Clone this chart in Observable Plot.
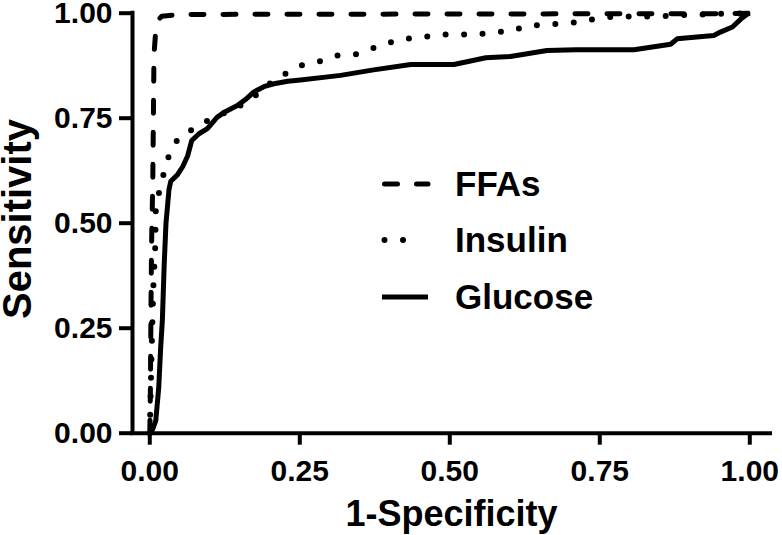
<!DOCTYPE html>
<html>
<head>
<meta charset="utf-8">
<script src="https://cdn.jsdelivr.net/npm/d3@7"></script>
<script src="https://cdn.jsdelivr.net/npm/@observablehq/plot@0.6"></script>
<style>
  body { margin: 0; background: #fff; }
  #wrap { position: relative; width: 782px; height: 535px; color: #000;
          font-family: "Liberation Sans", Arial, Helvetica, sans-serif; }
  #wrap svg { position: absolute; left: 0; top: 0; }
</style>
</head>
<body>
<div id="wrap"></div>
<script>
// ---- Data ----
const xTicks = [0, 0.25, 0.5, 0.75, 1];
const yTicks = [0, 0.25, 0.5, 0.75, 1];
const xTitle = "1-Specificity";
const yTitle = "Sensitivity";
const seriesNames = ["FFAs", "Insulin", "Glucose"];

const ffasX = [0, 0.001, 0.002, 0.003, 0.005, 0.006, 0.007, 0.010, 0.015, 0.020, 0.050, 0.500, 0.950, 1];
const ffasY = [0, 0.10, 0.30, 0.45, 0.60, 0.75, 0.90, 0.96, 0.985, 0.993, 0.997, 0.998, 0.999, 1];

const insulinX = [0, 0.002, 0.004, 0.006, 0.009, 0.010, 0.015, 0.021, 0.027, 0.036, 0.051, 0.073, 0.093, 0.120, 0.143, 0.165, 0.187, 0.206, 0.230, 0.255, 0.285, 0.311, 0.343, 0.365, 0.393, 0.420, 0.450, 0.480, 0.544, 0.573, 0.602, 0.629, 0.661, 0.690, 0.720, 0.748, 0.782, 0.845, 0.876, 0.938, 1];
const insulinY = [0, 0.13, 0.25, 0.35, 0.44, 0.53, 0.57, 0.605, 0.64, 0.677, 0.709, 0.724, 0.742, 0.760, 0.772, 0.794, 0.814, 0.841, 0.859, 0.877, 0.886, 0.899, 0.902, 0.913, 0.927, 0.939, 0.941, 0.949, 0.949, 0.955, 0.957, 0.971, 0.972, 0.976, 0.979, 0.989, 0.992, 0.992, 0.995, 0.998, 1];

const glucoseX = [0, 0.005, 0.010, 0.015, 0.018, 0.021, 0.024, 0.027, 0.032, 0.035, 0.046, 0.055, 0.063, 0.070, 0.082, 0.096, 0.112, 0.125, 0.146, 0.160, 0.173, 0.190, 0.207, 0.230, 0.251, 0.300, 0.318, 0.373, 0.435, 0.507, 0.560, 0.601, 0.662, 0.710, 0.807, 0.868, 0.879, 0.940, 0.951, 0.971, 0.985, 0.996, 1];
const glucoseY = [0, 0.01, 0.03, 0.11, 0.20, 0.27, 0.40, 0.50, 0.58, 0.60, 0.615, 0.635, 0.66, 0.697, 0.713, 0.725, 0.752, 0.765, 0.780, 0.795, 0.812, 0.825, 0.832, 0.838, 0.841, 0.849, 0.852, 0.865, 0.878, 0.878, 0.894, 0.897, 0.911, 0.913, 0.913, 0.926, 0.939, 0.947, 0.955, 0.967, 0.986, 0.998, 1];

// ---- Build tables ----
const toRows = (xs, ys) => xs.map((x, i) => ({x, y: ys[i]}));
const ffas = toRows(ffasX, ffasY);
const insulin = toRows(insulinX, insulinY);
const glucose = toRows(glucoseX, glucoseY);

const styles = {
  FFAs:    {strokeWidth: 5, strokeDasharray: "13,19", strokeLinecap: "round"},
  Insulin: {strokeWidth: 6, strokeDasharray: "0,18.5", strokeLinecap: "round"},
  Glucose: {strokeWidth: 5, strokeDasharray: null, strokeLinecap: "butt"}
};

const xDomain = [-0.0288, 1.0345];
const fmt = d3.format(".2f");
const font = '"Liberation Sans", Arial, Helvetica, sans-serif';

const chart = Plot.plot({
  width: 782,
  height: 535,
  marginLeft: 132,
  marginRight: 12,
  marginTop: 12.7,
  marginBottom: 102.3,
  style: {fontFamily: font, color: "#000", background: "#fff", overflow: "visible"},
  x: {domain: xDomain},
  y: {domain: [0, 1]},
  marks: [
    Plot.line(glucose, {x: "x", y: "y", stroke: "#000", strokeLinejoin: "round", ...styles.Glucose}),
    Plot.line(insulin, {x: "x", y: "y", stroke: "#000", strokeLinejoin: "round", ...styles.Insulin}),
    Plot.line(ffas, {x: "x", y: "y", stroke: "#000", strokeLinejoin: "round", ...styles.FFAs}),
    Plot.axisX(xTicks, {tickSize: 12, tickPadding: 14, fontSize: 30, fontWeight: "bold",
      strokeWidth: 4, tickFormat: fmt, label: null}),
    Plot.axisY(yTicks, {tickSize: 13, tickPadding: 7, fontSize: 30, fontWeight: "bold",
      strokeWidth: 4, tickFormat: fmt, label: null}),
    Plot.ruleY([0], {strokeWidth: 4, strokeLinecap: "square"}),
    Plot.ruleX([xDomain[0]], {strokeWidth: 4, strokeLinecap: "square"}),
    Plot.text([xTitle], {text: d => d, frameAnchor: "bottom", dy: 81, lineAnchor: "middle",
      fontSize: 36, fontWeight: "bold"})
  ]
});
document.getElementById("wrap").appendChild(chart);

// ---- Overlay: y-axis title and legend ----
const over = d3.select("#wrap").append("svg")
  .attr("width", 782).attr("height", 535)
  .style("pointer-events", "none");

over.append("text")
  .attr("transform", "translate(31,219) rotate(-90)")
  .attr("text-anchor", "middle")
  .attr("font-family", font)
  .attr("font-size", 40)
  .attr("font-weight", "bold")
  .attr("fill", "#000")
  .text(yTitle);

const rowY = [184, 240, 297];
seriesNames.forEach((name, i) => {
  const s = styles[name];
  const x1 = s.strokeLinecap === "round" ? 384.5 : 382;
  over.append("line")
    .attr("x1", x1).attr("x2", name === "Insulin" ? 421 : 428)
    .attr("y1", rowY[i]).attr("y2", rowY[i])
    .attr("stroke", "#000")
    .attr("stroke-width", s.strokeWidth)
    .attr("stroke-linecap", s.strokeLinecap)
    .attr("stroke-dasharray", s.strokeDasharray);
  over.append("text")
    .attr("x", 455).attr("y", rowY[i] + 12)
    .attr("font-family", font)
    .attr("font-size", 35)
    .attr("font-weight", "bold")
    .attr("fill", "#000")
    .text(name);
});
</script>
</body>
</html>
